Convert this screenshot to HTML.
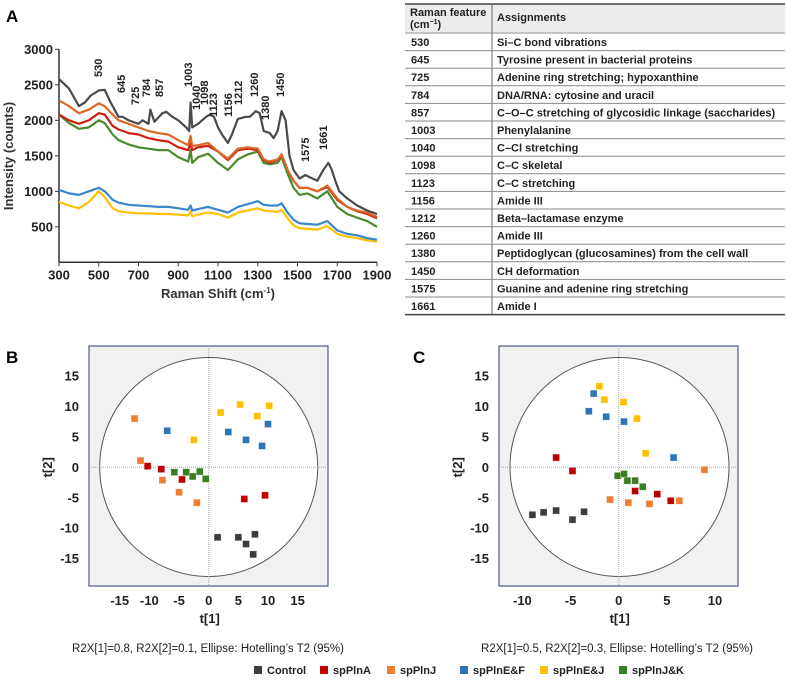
<!DOCTYPE html>
<html><head><meta charset="utf-8">
<style>
html,body{margin:0;padding:0;background:#fff;}
svg{display:block;font-family:"Liberation Sans",Arial,sans-serif;}
</style></head>
<body>
<svg id="fig" width="787" height="684" viewBox="0 0 787 684" xmlns="http://www.w3.org/2000/svg">
<text x="6" y="22" font-size="17" font-weight="bold">A</text>
<text x="6" y="363" font-size="17" font-weight="bold">B</text>
<text x="413" y="363" font-size="17" font-weight="bold">C</text>
<g id="spec"></g>
<g id="table"></g>
<g id="pcaB"></g>
<g id="pcaC"></g>
<g id="legend"></g>
</svg>
<script>
// ---------- Spectrum data ----------
const ctrlX=[300,350,380,400,430,460,500,530,560,600,620,650,700,720,750,760,780,820,840,870,900,940,955,962,970,1000,1040,1060,1080,1100,1120,1150,1170,1200,1240,1260,1290,1310,1330,1360,1380,1400,1420,1440,1460,1480,1510,1540,1560,1600,1630,1655,1670,1690,1710,1750,1800,1850,1900];
const ctrlY=[2580,2450,2300,2200,2250,2350,2420,2430,2250,2050,2050,2000,1950,2000,1950,2150,1980,2100,2120,2050,2000,1900,1850,2250,1900,1950,2050,2080,2050,1900,1800,1680,1800,2020,2050,2050,2130,2100,1850,1820,1750,1850,2130,2000,1500,1300,1180,1230,1200,1150,1300,1400,1320,1150,1000,900,800,730,680];
const comX=[300,350,400,450,500,530,570,600,650,700,750,800,850,900,950,962,970,1000,1050,1100,1150,1200,1250,1300,1330,1360,1400,1420,1450,1480,1510,1550,1600,1650,1700,1750,1800,1850,1900];
const orangeY=[2280,2200,2100,2150,2240,2200,2080,2000,1950,1900,1850,1820,1800,1720,1650,1780,1640,1650,1680,1560,1460,1600,1620,1600,1450,1420,1450,1520,1300,1150,1050,1050,1000,1080,900,780,730,700,640];
const redY=[2080,2000,1950,2000,2100,2080,1920,1870,1820,1800,1750,1720,1700,1620,1580,1680,1580,1620,1640,1560,1440,1580,1600,1580,1440,1400,1440,1520,1300,1150,1050,1050,1000,1060,880,780,720,680,620];
const greenY=[2080,1960,1880,1900,2000,1960,1800,1720,1660,1620,1600,1580,1580,1480,1420,1580,1400,1480,1530,1400,1300,1450,1520,1560,1400,1380,1400,1480,1250,1050,950,970,900,1000,780,680,630,580,500];
const blueY=[1020,970,950,1000,1050,1000,880,840,810,800,790,780,780,760,740,800,730,750,780,740,700,780,820,860,810,800,800,830,700,600,550,540,530,580,450,400,380,340,320];
const yellowY=[850,800,760,850,1000,920,760,720,700,690,690,680,680,670,660,720,650,670,700,680,630,700,730,760,730,720,710,740,620,520,480,470,460,510,400,360,340,310,290];
const specXTicks=[300,500,700,900,1100,1300,1500,1700,1900];
const specYTicks=[500,1000,1500,2000,2500,3000];
const peakLabels=["530","645","725","784","857","1003","1040","1098","1123","1156","1212","1260","1380","1450","1575","1661"];

// ---------- PCA data ----------
const groups=["Control","spPlnA","spPlnJ","spPlnE&F","spPlnE&J","spPlnJ&K"];
const colors=["#3c3c3c","#c00000","#ed7d31","#2e75b6","#ffc000","#3b7d23"];
const bT1=[[1.5,5,6.3,7.8,7.5],[-10.3,-8,-4.5,6,9.5],[-12.5,-11.5,-7.8,-5,-2],[-7,3.3,6.3,9,10],[-2.5,2,5.3,8.2,10.2],[-5.8,-3.8,-2.7,-1.5,-0.5]];
const bT2=[[-11.5,-11.5,-12.6,-11,-14.3],[0.2,-0.3,-2,-5.2,-4.6],[8,1.1,-2.1,-4.1,-5.8],[6,5.8,4.5,3.5,7.1],[4.5,9,10.3,8.4,10.1],[-0.8,-0.8,-1.5,-0.7,-1.9]];
const cT1=[[-8.96,-7.8,-6.5,-4.8,-3.6],[-6.5,-4.8,1.7,4,5.4],[-0.9,1,3.2,6.3,8.9],[-2.6,-3.1,-1.3,0.55,5.7],[-2,-1.5,0.5,1.9,2.8],[-0.1,0.55,0.9,1.7,2.5]];
const cT2=[[-7.8,-7.4,-7.1,-8.6,-7.3],[1.6,-0.6,-3.9,-4.4,-5.5],[-5.3,-5.8,-6,-5.5,-0.4],[12.1,9.2,8.3,7.5,1.6],[13.3,11.1,10.7,8,2.3],[-1.4,-1.1,-2.2,-2.2,-3.2]];
const bXTicks=[-15,-10,-5,0,5,10,15];
const cXTicks=[-10,-5,0,5,10];
const yTicksPCA=[-15,-10,-5,0,5,10,15];

const NS="http://www.w3.org/2000/svg";
function mk(parent,tag,attrs,text){const e=document.createElementNS(NS,tag);for(const k in attrs)e.setAttribute(k,attrs[k]);if(text!==undefined)e.textContent=text;parent.appendChild(e);return e;}

// ---------- Spectrum ----------
(function(){
 const g=document.getElementById('spec');
 const x0=59,x1=377,y0=262.3,yTop=49.3;
 const sx=v=>x0+(v-300)/(1600)*(x1-x0);
 const sy=v=>y0-(v/3000)*(y0-yTop);
 let e=mk(g,'line',{x1:x0,y1:yTop,x2:x0,y2:y0,stroke:'#333','stroke-width':1.5});
 
 e=mk(g,'line',{x1:x0,y1:y0,x2:x1,y2:y0,stroke:'#333','stroke-width':1.5});
 
 specYTicks.forEach(v=>{
  mk(g,'line',{x1:x0-4,y1:sy(v),x2:x0,y2:sy(v),stroke:'#333'});
  const t=mk(g,'text',{x:x0-6,y:sy(v)+4.5,'font-size':13,'font-weight':'bold','text-anchor':'end',fill:'#222'},String(v));
  
 });
 specXTicks.forEach(v=>{
  mk(g,'line',{x1:sx(v),y1:y0,x2:sx(v),y2:y0+4,stroke:'#333'});
  const t=mk(g,'text',{x:sx(v),y:y0+17,'font-size':13,'font-weight':'bold','text-anchor':'middle',fill:'#222'},String(v));
  
 });
 let t=mk(g,'text',{x:218,y:298,'font-size':13,'font-weight':'bold','text-anchor':'middle',fill:'#333'});
 t.innerHTML='Raman Shift (cm<tspan dy="-5" font-size="8">-1</tspan><tspan dy="5">)</tspan>';
 
 t=mk(g,'text',{x:0,y:0,'font-size':13,'font-weight':'bold','text-anchor':'middle',fill:'#333',transform:'translate(13,156) rotate(-90)'},'Intensity (counts)');
 
 const series=[[comX,yellowY,'#ffc000','yellow'],[comX,blueY,'#3b86c8','blue'],[comX,greenY,'#4a8a2e','green'],[comX,redY,'#d01f0f','red'],[comX,orangeY,'#d86a25','orange'],[ctrlX,ctrlY,'#4a4a4a','control']];
 series.forEach(s=>{
  const d=s[0].map((x,i)=>(i?'L':'M')+sx(x).toFixed(1)+','+sy(s[1][i]).toFixed(1)).join(' ');
  const p=mk(g,'path',{d:d,fill:'none',stroke:s[2],'stroke-width':2.2,'stroke-linejoin':'round'});
  
 });
 const lp=[[98,77],[121,93],[135,105],[146,97],[159,97],[188,87],[196,110],[204,105],[213,117],[228,117],[238,105],[254,97],[265,120],[280,97],[305,162],[323,150]];
 peakLabels.forEach((l,i)=>{
  const tt=mk(g,'text',{x:0,y:0,'font-size':11,'font-weight':'bold',fill:'#222',transform:`translate(${lp[i][0]+4},${lp[i][1]}) rotate(-90)`},l);
  
 });
})();

// ---------- Table ----------
(function(){
 const g=document.getElementById('table');
 const rows=[["530","Si–C bond vibrations"],["645","Tyrosine present in bacterial proteins"],["725","Adenine ring stretching; hypoxanthine"],["784","DNA/RNA: cytosine and uracil"],["857","C–O–C stretching of glycosidic linkage (saccharides)"],["1003","Phenylalanine"],["1040","C–Cl stretching"],["1098","C–C skeletal"],["1123","C–C stretching"],["1156","Amide III"],["1212","Beta–lactamase enzyme"],["1260","Amide III"],["1380","Peptidoglycan (glucosamines) from the cell wall"],["1450","CH deformation"],["1575","Guanine and adenine ring stretching"],["1661","Amide I"]];
 mk(g,'rect',{x:405,y:4,width:380,height:28,fill:'#ececec'});
 mk(g,'line',{x1:405,y1:4,x2:785,y2:4,stroke:'#444','stroke-width':1.5});
 mk(g,'line',{x1:492,y1:4,x2:492,y2:315,stroke:'#666','stroke-width':1});
 let t=mk(g,'text',{x:410,y:16,'font-size':11,'font-weight':'bold',fill:'#222'},'Raman feature');
 
 t=mk(g,'text',{x:410,y:28,'font-size':11,'font-weight':'bold',fill:'#222'});
 t.innerHTML='(cm<tspan dy="-4" font-size="7">−1</tspan><tspan dy="4">)</tspan>';
 t=mk(g,'text',{x:497,y:21,'font-size':11,'font-weight':'bold',fill:'#222'},'Assignments');
 
 const top=33,rh=17.6;
 rows.forEach((r,i)=>{
  const y=top+i*rh;
  mk(g,'line',{x1:405,y1:y,x2:785,y2:y,stroke:'#888','stroke-width':1});
  let a=mk(g,'text',{x:411,y:y+13,'font-size':11,'font-weight':'bold',fill:'#222'},r[0]);
  
  a=mk(g,'text',{x:497,y:y+13,'font-size':11,'font-weight':'bold',fill:'#222'},r[1]);
  
 });
 mk(g,'line',{x1:405,y1:top+rows.length*rh,x2:785,y2:top+rows.length*rh,stroke:'#444','stroke-width':1.5});
})();

// ---------- PCA ----------
function pca(id,box,x0px,pxPerX,xTicks,T1,T2,circ,capX,caption,ylabX){
 const g=document.getElementById(id);
 const y0px=467.3,pxPerY=6.09;
 const sx=v=>x0px+v*pxPerX, sy=v=>y0px-v*pxPerY;
 let r=mk(g,'rect',{x:box[0],y:box[1],width:box[2]-box[0],height:box[3]-box[1],fill:'#f1f1f1',stroke:'#4a5a8a','stroke-width':1.2});
 
 const c=mk(g,'ellipse',{cx:circ[0],cy:circ[1],rx:circ[2],ry:circ[3],fill:'#fff',stroke:'#555','stroke-width':1});
 
 mk(g,'line',{x1:sx(0),y1:box[1],x2:sx(0),y2:box[3],stroke:'#aaa','stroke-dasharray':'1,1'});
 mk(g,'line',{x1:box[0],y1:sy(0),x2:box[2],y2:sy(0),stroke:'#aaa','stroke-dasharray':'1,1'});
 xTicks.forEach(v=>{const t=mk(g,'text',{x:sx(v),y:605,'font-size':13,'font-weight':'bold','text-anchor':'middle',fill:'#222'},String(v));
  });
 yTicksPCA.forEach(v=>{const t=mk(g,'text',{x:box[0]-10,y:sy(v)+4.5,'font-size':13,'font-weight':'bold','text-anchor':'end',fill:'#222'},String(v));
  });
 let t=mk(g,'text',{x:sx(0)+1,y:623,'font-size':13,'font-weight':'bold','text-anchor':'middle',fill:'#222'},'t[1]');
 
 t=mk(g,'text',{x:0,y:0,'font-size':13,'font-weight':'bold','text-anchor':'middle',fill:'#222',transform:`translate(${ylabX},${y0px}) rotate(-90)`},'t[2]');
 
 T1.forEach((arr,gi)=>arr.forEach((v,i)=>{
  const p=mk(g,'rect',{x:sx(v)-3.5,y:sy(T2[gi][i])-3.5,width:7,height:7,fill:colors[gi],stroke:'#fff','stroke-width':0.6,'stroke-opacity':0.6});
  
 }));
 t=mk(g,'text',{x:capX,y:652,'font-size':11.5,'text-anchor':'middle',fill:'#222'},caption);
 
}
pca('pcaB',[89,346,328,586],208.7,5.93,bXTicks,bT1,bT2,[208.7,467,109,109.5],208,'R2X[1]=0.8, R2X[2]=0.1, Ellipse: Hotelling\u2019s T2 (95%)',52);
pca('pcaC',[499,346,738,586],618.7,9.63,cXTicks,cT1,cT2,[619.5,467,109.5,109.5],617,'R2X[1]=0.5, R2X[2]=0.3, Ellipse: Hotelling\u2019s T2 (95%)',462);

// ---------- Legend ----------
(function(){
 const g=document.getElementById('legend');
 const xs=[254,320,387,460,540,619];
 groups.forEach((n,i)=>{
  const r=mk(g,'rect',{x:xs[i],y:666,width:8,height:8,fill:colors[i]});
  
  const t=mk(g,'text',{x:xs[i]+13,y:674,'font-size':11,'font-weight':'bold',fill:'#222'},n);
  
 });
})();
</script>
</body></html>
